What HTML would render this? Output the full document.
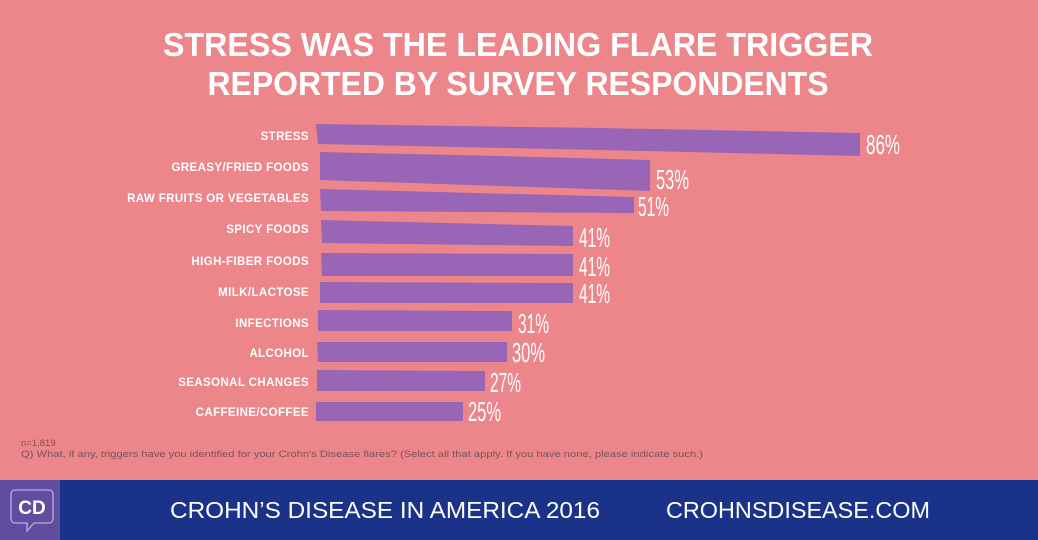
<!DOCTYPE html>
<html><head><meta charset="utf-8"><style>
html,body{margin:0;padding:0;}
body{width:1038px;height:540px;overflow:hidden;background:#ec868a;}
svg{display:block;}
</style></head><body>
<svg width="1038" height="540" viewBox="0 0 1038 540" xmlns="http://www.w3.org/2000/svg">
<rect width="1038" height="540" fill="#ec868a"/>
<g font-family="Liberation Sans, sans-serif" font-weight="bold" fill="#fff" font-size="33">
<text x="518" y="56" text-anchor="middle" textLength="710" lengthAdjust="spacingAndGlyphs">STRESS WAS THE LEADING FLARE TRIGGER</text>
<text x="518" y="95" text-anchor="middle" textLength="621" lengthAdjust="spacingAndGlyphs">REPORTED BY SURVEY RESPONDENTS</text>
</g>
<g fill="#9965b7">
<polygon points="316,124 600,128 860,133 860,156 600,150 318,144"/>
<polygon points="320,152 500,156 650,160 650,191 500,186 320,180"/>
<polygon points="320,189 634,197 634,213 321,211"/>
<polygon points="321,220 573,226 573,246 322,243"/>
<polygon points="321,253 573,254 573,276 322,276"/>
<polygon points="320,282 573,283 573,303 320,303"/>
<polygon points="318,310 512,311 512,331 318,331"/>
<polygon points="317,342 507,342 507,362 318,362"/>
<polygon points="317,370 485,371 485,391 317,391"/>
<polygon points="316,402 463,402 463,421 316,421"/>
</g>
<g font-family="Liberation Sans, sans-serif" font-weight="bold" fill="#fff" font-size="11.5" text-anchor="end" letter-spacing="0.4">
<text x="309" y="140">STRESS</text>
<text x="309" y="171">GREASY/FRIED FOODS</text>
<text x="309" y="202">RAW FRUITS OR VEGETABLES</text>
<text x="309" y="233">SPICY FOODS</text>
<text x="309" y="265">HIGH-FIBER FOODS</text>
<text x="309" y="296">MILK/LACTOSE</text>
<text x="309" y="327">INFECTIONS</text>
<text x="309" y="357">ALCOHOL</text>
<text x="309" y="386">SEASONAL CHANGES</text>
<text x="309" y="416">CAFFEINE/COFFEE</text>
</g>
<g font-family="Liberation Sans Narrow, Liberation Sans, sans-serif" fill="#fff" font-size="28">
<text x="866" y="154" textLength="34" lengthAdjust="spacingAndGlyphs">86%</text>
<text x="656" y="189" textLength="33" lengthAdjust="spacingAndGlyphs">53%</text>
<text x="638" y="216" textLength="31" lengthAdjust="spacingAndGlyphs">51%</text>
<text x="579" y="247" textLength="31" lengthAdjust="spacingAndGlyphs">41%</text>
<text x="579" y="276" textLength="31" lengthAdjust="spacingAndGlyphs">41%</text>
<text x="579" y="303" textLength="31" lengthAdjust="spacingAndGlyphs">41%</text>
<text x="518" y="333" textLength="31" lengthAdjust="spacingAndGlyphs">31%</text>
<text x="512" y="362" textLength="33" lengthAdjust="spacingAndGlyphs">30%</text>
<text x="490" y="392" textLength="31" lengthAdjust="spacingAndGlyphs">27%</text>
<text x="468" y="421" textLength="33" lengthAdjust="spacingAndGlyphs">25%</text>
</g>
<g font-family="Liberation Sans Narrow, Liberation Sans, sans-serif" fill="#7a5458" font-size="9.5">
<text x="21" y="446">n=1,819</text>
<text x="21" y="457" textLength="682" lengthAdjust="spacingAndGlyphs">Q) What, if any, triggers have you identified for your Crohn's Disease flares? (Select all that apply. If you have none, please indicate such.)</text>
</g>
<rect x="0" y="480" width="1038" height="60" fill="#1a3287"/>
<rect x="0" y="480" width="60" height="60" fill="#5f4e9f"/>
<path d="M11,494 a4,4 0 0 1 4,-4 h34 a4,4 0 0 1 4,4 v25 a4,4 0 0 1 -4,4 h-15 l-7,8 v-8 h-12 a4,4 0 0 1 -4,-4 z" fill="none" stroke="#b9aed8" stroke-width="1.3"/>
<text x="32" y="514" text-anchor="middle" font-family="Liberation Sans, sans-serif" font-weight="bold" font-size="19" fill="#fff">CD</text>
<g font-family="Liberation Sans Narrow, Liberation Sans, sans-serif" fill="#fff" font-size="23">
<text x="170" y="518" textLength="430" lengthAdjust="spacingAndGlyphs">CROHN’S DISEASE IN AMERICA 2016</text>
<text x="666" y="518" textLength="264" lengthAdjust="spacingAndGlyphs">CROHNSDISEASE.COM</text>
</g>
</svg>
</body></html>
